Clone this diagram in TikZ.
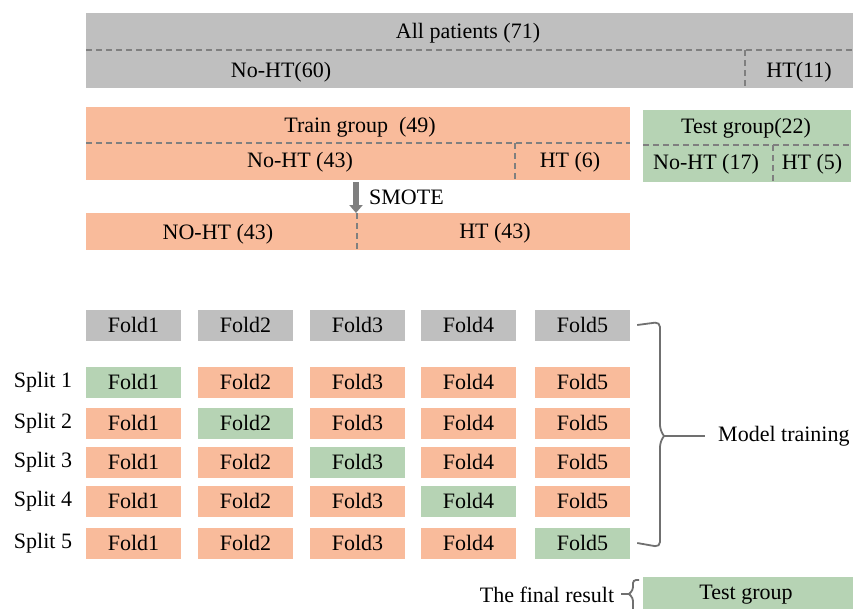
\documentclass[tikz,border=0pt]{standalone}
\usepackage{fontspec}
\setmainfont{Liberation Serif}
\usetikzlibrary{arrows.meta}
\definecolor{bgray}{HTML}{BFBFBF}
\definecolor{torange}{HTML}{F9BB9B}
\definecolor{tgreen}{HTML}{B6D3B4}
\definecolor{dgray}{HTML}{7F7F7F}
\definecolor{bracegray}{HTML}{707070}
\begin{document}
\begin{tikzpicture}[x=1pt,y=-1pt,
  every node/.style={font=\fontsize{22}{26}\selectfont, inner sep=0pt},
  blk/.style={draw=none, anchor=north west, minimum width=#1},
  cell/.style={minimum width=95pt, minimum height=31pt},
  divider/.style={draw=dgray, line width=1.4pt, dash pattern=on 6pt off 4pt},
  bracel/.style={draw=bracegray, line width=1.8pt, rounded corners=5pt},
  lbl/.style={fill=none}
]
\useasboundingbox (0,0) rectangle (853,608);

% All patients
\node[blk=767pt, minimum height=75pt, fill=bgray] (all) at (86,13) {};
\draw[divider] (86,50) -- (853,50);
\draw[divider] (745,50) -- (745,88);
\node[lbl] (allt) at (468,33) {All patients (71)};
\node[lbl] (allno) at (281,72) {No-HT(60)};
\node[lbl] (allht) at (799,72) {HT(11)};

% Train group
\node[blk=544pt, minimum height=73pt, fill=torange] (train) at (86,107) {};
\draw[divider] (86,143) -- (630,143);
\draw[divider] (515,143) -- (515,180);
\node[lbl] (traint) at (360,127) {Train group\ \ (49)};
\node[lbl] (trainno) at (300,162) {No-HT (43)};
\node[lbl] (trainht) at (570,162) {HT (6)};

% Test group
\node[blk=208pt, minimum height=72pt, fill=tgreen] (test) at (643,110) {};
\draw[divider] (643,145) -- (851,145);
\draw[divider] (773,145) -- (773,182);
\node[lbl] (testt) at (746,128) {Test group(22)};
\node[lbl] (testno) at (706,164) {No-HT (17)};
\node[lbl] (testht) at (812,164) {HT (5)};

% SMOTE
\node[blk=544pt, minimum height=37pt, fill=torange] (smote) at (86,213) {};
\draw[divider] (357,213) -- (357,250);
\node[lbl] (smno) at (218,234) {NO-HT (43)};
\node[lbl] (smht) at (495,233) {HT (43)};
\coordinate (arrs) at (356,182);
\coordinate (arre) at (356,213);
\draw[draw=dgray, line width=5.5pt, -{Triangle[length=8pt,width=13pt]}] (arrs) -- (arre);
\node[lbl, anchor=west] (smotel) at (369,197) {SMOTE};

% Header folds
\foreach \c/\x in {1/133.5,2/245.5,3/357.5,4/468.5,5/582.5}{
  \node[cell, fill=bgray] (h\c) at (\x,325) {Fold\c};
}
% Splits
\foreach \r/\y in {1/382,2/423,3/462,4/501,5/543}{
  \node[lbl] (sp\r) at (43,\y) {Split \r};
  \foreach \c/\x in {1/133.5,2/245.5,3/357.5,4/468.5,5/582.5}{
    \ifnum\r=\c \def\fc{tgreen}\else\def\fc{torange}\fi
    \node[cell, fill=\fc] (s\r f\c) at (\x,\y) {Fold\c};
  }
}

% Model training brace
\node[lbl, anchor=west] (mt) at (718,436) {Model training};
\draw[bracel] ([xshift=7pt]h5.east) -- (660,322) -- (660,430) -- (664,436);
\draw[bracel] ([xshift=7pt]s5f5.east) -- (660,547) -- (660,442) -- (664,436);
\draw[draw=bracegray, line width=1.8pt] (664,436) -- (mt.west -| 705,0);

% Final result
\node[blk=210pt, minimum height=32pt, fill=tgreen] (final) at (643,577) {};
\node[lbl] (finalt) at (746,595) {Test group};
\node[lbl] (fr) at (547,595) {The final result};
\draw[bracel, rounded corners=3pt] (639,580) -- (633,580) -- (633,590) -- (629,594);
\draw[bracel, rounded corners=3pt] (629,594) -- (633,598) -- (633,610);
\draw[draw=bracegray, line width=1.8pt] (629,594) -- (621,594);
\end{tikzpicture}
\end{document}
